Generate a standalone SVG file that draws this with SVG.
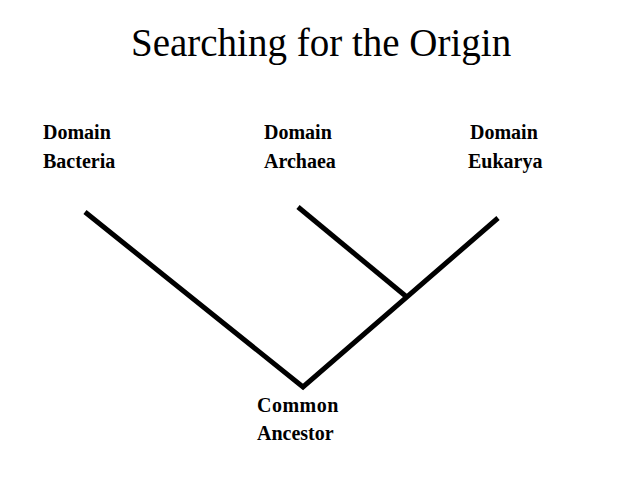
<svg xmlns="http://www.w3.org/2000/svg" width="638" height="479" viewBox="0 0 638 479">
<style>
.t{font-family:"Liberation Serif","Times New Roman",serif;fill:#000}
.title{font-size:39px}
.lbl{font-size:20px;font-weight:bold}
.br{stroke:#000;stroke-width:5;fill:none;stroke-linecap:butt}
</style>
<rect width="638" height="479" fill="#fff"/>
<text class="t title" x="131" y="56">Searching for the Origin</text>
<g id="bacteria"><text class="t lbl" x="43" y="139">Domain</text><text class="t lbl" x="43" y="168">Bacteria</text></g>
<g id="archaea"><text class="t lbl" x="264" y="139">Domain</text><text class="t lbl" x="264" y="168">Archaea</text></g>
<g id="eukarya"><text class="t lbl" x="470" y="139">Domain</text><text class="t lbl" x="468" y="168">Eukarya</text></g>
<g id="ancestor"><text class="t lbl" x="257" y="412" letter-spacing="0.5">Common</text><text class="t lbl" x="257" y="440">Ancestor</text></g>
<g id="connectors">
<polyline class="br" points="85,212 303,387 498,218"/>
<line class="br" x1="298" y1="207" x2="408" y2="298"/>
</g>
</svg>
